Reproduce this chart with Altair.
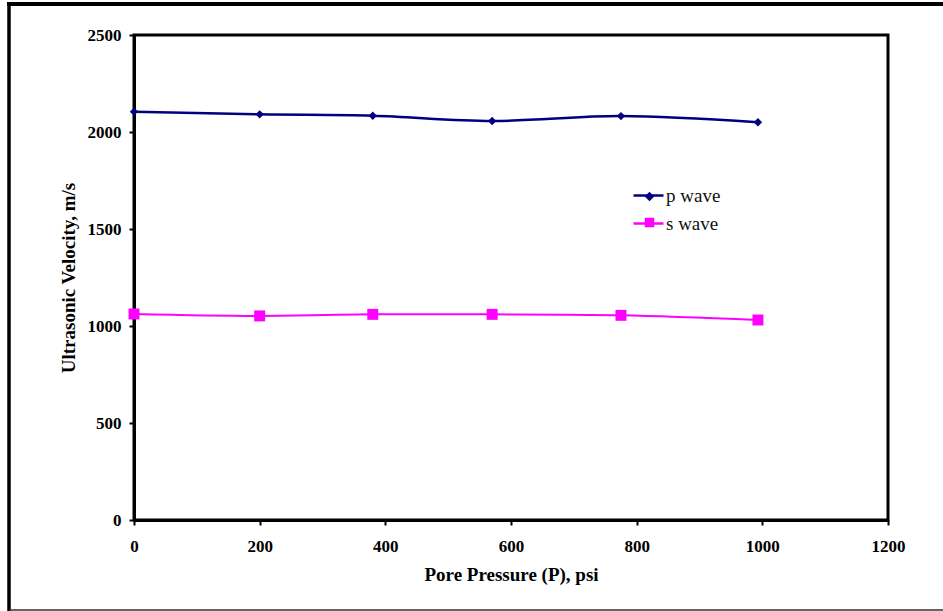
import altair as alt
import pandas as pd

pressure = [0, 200, 380, 570, 775, 993]
p_wave = [2105, 2091, 2084, 2057, 2082, 2050]
s_wave = [1062, 1052, 1060, 1060, 1055, 1031]
series_names = ["p wave", "s wave"]
series_colors = ["#000080", "#FF00FF"]
x_ticks = [0, 200, 400, 600, 800, 1000, 1200]
y_ticks = [0, 500, 1000, 1500, 2000, 2500]

rows = []
for name, vals in zip(series_names, [p_wave, s_wave]):
    for x, v in zip(pressure, vals):
        rows.append({"pressure": x, "velocity": v, "series": name})
df = pd.DataFrame(rows)

FONT = "Liberation Serif"

xenc = alt.X("pressure:Q", scale=alt.Scale(domain=[0, 1200], nice=False),
             axis=alt.Axis(values=x_ticks, format="d", title="Pore Pressure (P), psi", grid=False,
                           labelPadding=13, titlePadding=11))
yenc = alt.Y("velocity:Q", scale=alt.Scale(domain=[0, 2500], nice=False),
             axis=alt.Axis(values=y_ticks, format="d", title="Ultrasonic Velocity, m/s", grid=False,
                           labelPadding=8, titlePadding=9))

base = alt.Chart(df)

lines = base.mark_line(interpolate="catmull-rom").encode(
    x=xenc, y=yenc,
    color=alt.Color("series:N", scale=alt.Scale(domain=series_names, range=series_colors),
                    legend=alt.Legend(
                        title=None, orient="none", legendX=498, legendY=144,
                        symbolType="stroke", symbolSize=900, symbolStrokeWidth=2.5,
                        labelFont=FONT, labelFontSize=19, labelColor="#111",
                        labelOffset=1, rowPadding=1, padding=0)),
    strokeWidth=alt.StrokeWidth("series:N", scale=alt.Scale(domain=series_names, range=[2.5, 2]), legend=None),
)

points = base.mark_point(filled=True, opacity=1).encode(
    x=xenc, y=yenc,
    color=alt.Color("series:N", scale=alt.Scale(domain=series_names, range=series_colors),
                    legend=alt.Legend(
                        title=None, orient="none", legendX=508, legendY=154,
                        symbolSize=90, symbolOpacity=1,
                        labelFont=FONT, labelFontSize=15, labelExpr="''",
                        labelOffset=2, rowPadding=9, padding=0)),
    shape=alt.Shape("series:N", scale=alt.Scale(domain=series_names, range=["diamond", "square"])),
    size=alt.Size("series:N", scale=alt.Scale(domain=series_names, range=[70, 120]), legend=None),
)

one = alt.Data(values=[{"a": 1}])
frame_left = alt.Chart(one).mark_rule(color="black", strokeWidth=3.5).encode(
    x=alt.value(-125), y=alt.value(-33), y2=alt.value(576))
frame_top = alt.Chart(one).mark_rule(color="black", strokeWidth=4).encode(
    x=alt.value(-127), x2=alt.value(812), y=alt.value(-31))
frame_bottom = alt.Chart(one).mark_rule(color="#333", strokeWidth=1.5).encode(
    x=alt.value(-125), x2=alt.value(812), y=alt.value(575))

chart = alt.layer(frame_left, frame_top, frame_bottom, lines, points).resolve_scale(
    color="independent", shape="independent"
).resolve_legend(
    color="independent", shape="independent"
).properties(
    width=754, height=485,
    autosize=alt.AutoSizeParams(type="none"),
    padding={"left": 134, "top": 35, "right": 55, "bottom": 91},
    background="white",
).configure_view(
    stroke="black", strokeWidth=3
).configure_axis(
    domainColor="black", domainWidth=3, tickColor="black", tickWidth=2, tickSize=5,
    labelFont=FONT, labelFontSize=17, labelFontWeight="bold", labelColor="black",
    titleFont=FONT, titleFontSize=19, titleFontWeight="bold", titleColor="black",
).configure_axisX(labelFlush=False)

chart.save("out.html", embed_options={"renderer": "svg", "actions": False})
